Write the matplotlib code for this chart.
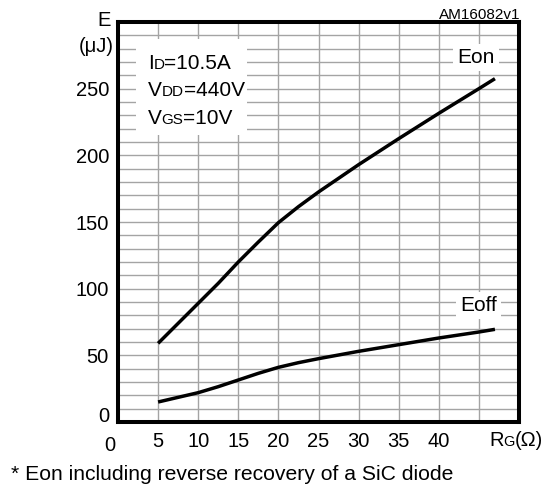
import matplotlib
matplotlib.use("Agg")
import matplotlib.pyplot as plt
from matplotlib.patches import Rectangle
from matplotlib.offsetbox import TextArea, HPacker, VPacker, AnnotationBbox

plt.rcParams['font.family'] = ['Liberation Sans', 'DejaVu Sans']

# Data
rg_on = [5, 7.5, 10, 12.5, 15, 17.5, 20, 22.5, 25, 30, 35, 40, 45, 47]
e_on = [59, 74, 89, 104, 120, 135, 149.5, 161.5, 172.5, 193, 212.5, 231.5, 250, 257.5]
rg_off = [5, 7.5, 10, 12.5, 15, 17.5, 20, 22.5, 25, 30, 35, 40, 45, 47]
e_off = [15, 18.5, 22, 26.5, 31.5, 36.5, 41, 44.5, 47.5, 53, 58, 63, 67.5, 69.5]
x_ticks = [5, 10, 15, 20, 25, 30, 35, 40]
y_ticks = [50, 100, 150, 200, 250]

FS = 14.5

fig = plt.figure(figsize=(5.5, 4.94), dpi=100)
ax = fig.add_axes([118/550, 72/494, 401/550, 400/494])
ax.set_xlim(0, 50)
ax.set_ylim(0, 300)

ax.set_xticks(x_ticks)
ax.set_xticklabels([str(t) for t in x_ticks])
ax.set_yticks(y_ticks)
ax.set_yticklabels([str(t) for t in y_ticks])
ax.tick_params(length=0, labelsize=FS)
ax.tick_params(axis='x', pad=7)
ax.tick_params(axis='y', pad=6.5)

for x in range(5, 50, 5):
    ax.axvline(x, color='#a4a4a4', lw=1.0, zorder=0)
for y in range(10, 300, 10):
    ax.axhline(y, color='#a4a4a4', lw=1.0, zorder=0)

for s in ax.spines.values():
    s.set_linewidth(2.9)
    s.set_color('black')

ax.plot(rg_on, e_on, color='black', lw=2.5, solid_capstyle='butt', zorder=3)
ax.plot(rg_off, e_off, color='black', lw=2.5, solid_capstyle='butt', zorder=3)

# origin labels
ax.annotate('0', xy=(-1, 0), xycoords='data', xytext=(0, -10), textcoords='offset points',
            ha='center', va='top', fontsize=FS, annotation_clip=False)
ax.annotate('0', xy=(0, 0), xycoords='data', xytext=(-6.5, 4), textcoords='offset points',
            ha='right', va='center', fontsize=FS, annotation_clip=False)

def rich(parts, big=FS, small=10.5):
    areas = []
    for txt, sm in parts:
        areas.append(TextArea(txt, textprops=dict(fontsize=small if sm else big, color='black')))
    return HPacker(children=areas, align='baseline', pad=0, sep=0)

# x axis label RG(Ω)
lab = rich([('R', False), ('G', True), ('(Ω)', False)], big=FS, small=10.5)
ab = AnnotationBbox(lab, (516/550, 1 - 440/494), xycoords='figure fraction', frameon=False,
                    box_alignment=(0.5, 0.5), pad=0)
fig.add_artist(ab)

# Conditions box
ax.add_patch(Rectangle((2.3, 215), 13.8, 72, facecolor='white', edgecolor='none', zorder=2))
lines = [rich([('I', False), ('D', True), ('=10.5A', False)], big=15, small=11),
         rich([('V', False), ('DD', True), ('=440V', False)], big=15, small=11),
         rich([('V', False), ('GS', True), ('=10V', False)], big=15, small=11)]
vp = VPacker(children=lines, align='left', pad=0, sep=6)
ab = AnnotationBbox(vp, (3.7, 276), xycoords='data', box_alignment=(0, 1), frameon=False, pad=0)
ab.set_zorder(4)
ax.add_artist(ab)

ax.text(44.6, 273.5, 'Eon', fontsize=15, ha='center', va='center', zorder=4,
        bbox=dict(facecolor='white', edgecolor='none', pad=3))
ax.text(45, 87.5, 'Eoff', fontsize=15, ha='center', va='center', zorder=4,
        bbox=dict(facecolor='white', edgecolor='none', pad=3))

fig.text(104/550, 1 - 20.5/494, 'E', fontsize=FS, ha='center', va='center')
fig.text(96.5/550, 1 - 47/494, '(μJ)', fontsize=FS, ha='center', va='center')
fig.text(520/550, 1 - 15/494, 'AM16082v1', fontsize=11, ha='right', va='center')
fig.text(11/550, 1 - 474/494, '* Eon including reverse recovery of a SiC diode',
         fontsize=15.2, ha='left', va='center')

fig.savefig('out.png', dpi=100)
